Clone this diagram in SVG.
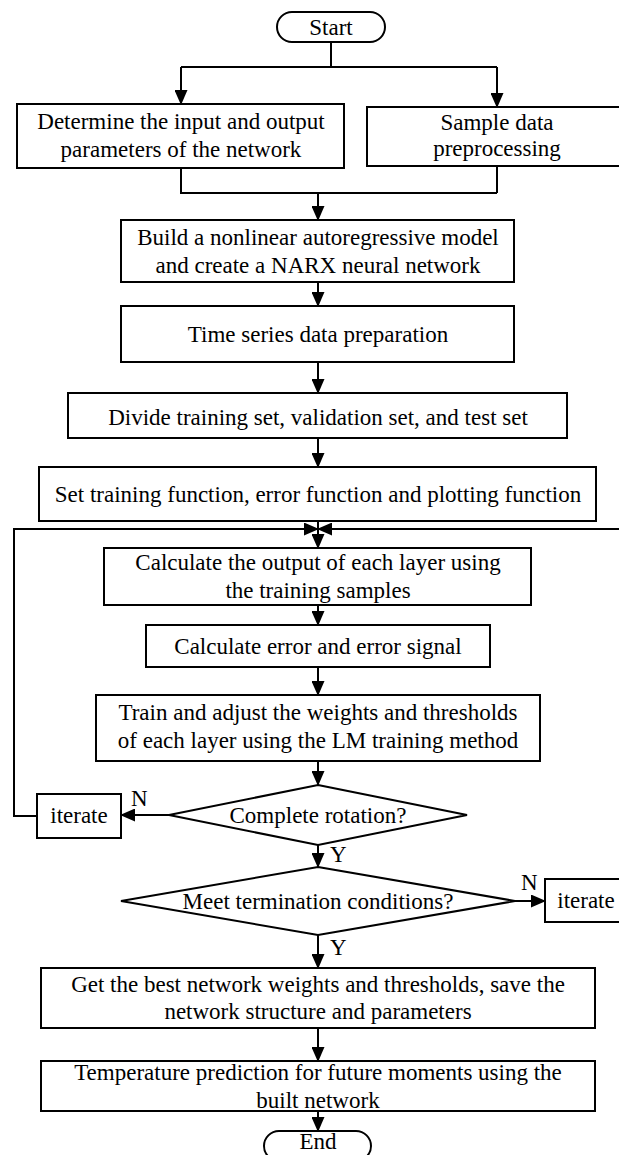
<svg xmlns="http://www.w3.org/2000/svg" width="619" height="1155" viewBox="0 0 619 1155">
  <style>
    .box { fill: #fff; stroke: #000; stroke-width: 2; }
    .lbl { font-family: "Liberation Serif", "Times New Roman", serif; font-size: 23px; fill: #000; text-anchor: middle; }
    .yn { font-family: "Liberation Serif", "Times New Roman", serif; font-size: 23px; fill: #000; }
    .wire { fill: none; stroke: #000; stroke-width: 2; }
  </style>
  <defs>
    <marker id="arrow" viewBox="0 0 15 13" markerUnits="userSpaceOnUse" markerWidth="15" markerHeight="13" refX="14" refY="6.5" orient="auto">
      <path d="M0,0 L15,6.5 L0,13 Z" fill="#000"/>
    </marker>
  </defs>
  <rect width="619" height="1155" fill="#fff"/>

  <!-- connectors -->
  <g id="connectors">
    <path class="wire" d="M331,42 V67 M181,67 H497"/>
    <path class="wire" d="M181,67 V104" marker-end="url(#arrow)"/>
    <path class="wire" d="M497,67 V107" marker-end="url(#arrow)"/>
    <path class="wire" d="M181,168 V193 H497 M497,166 V193"/>
    <path class="wire" d="M318,193 V220" marker-end="url(#arrow)"/>
    <path class="wire" d="M318,282 V306" marker-end="url(#arrow)"/>
    <path class="wire" d="M318,362 V393" marker-end="url(#arrow)"/>
    <path class="wire" d="M318,438 V467" marker-end="url(#arrow)"/>
    <path class="wire" d="M318,521 V548" marker-end="url(#arrow)"/>
    <path class="wire" d="M37,816 H14 V529 H318" marker-end="url(#arrow)"/>
    <path class="wire" d="M625,529 H318" marker-end="url(#arrow)"/>
    <path class="wire" d="M318,605 V625" marker-end="url(#arrow)"/>
    <path class="wire" d="M318,667 V695" marker-end="url(#arrow)"/>
    <path class="wire" d="M318,761 V785" marker-end="url(#arrow)"/>
    <path class="wire" d="M169,815 H121" marker-end="url(#arrow)"/>
    <path class="wire" d="M318,845 V867" marker-end="url(#arrow)"/>
    <path class="wire" d="M515,901 H545" marker-end="url(#arrow)"/>
    <path class="wire" d="M318,935 V968" marker-end="url(#arrow)"/>
    <path class="wire" d="M318,1028 V1061" marker-end="url(#arrow)"/>
    <path class="wire" d="M318,1111 V1131" marker-end="url(#arrow)"/>
    <text class="yn" x="131" y="806">N</text>
    <text class="yn" x="330" y="862">Y</text>
    <text class="yn" x="521" y="890">N</text>
    <text class="yn" x="330" y="955">Y</text>
  </g>

  <g id="start">
    <rect class="box" x="277" y="12" width="108" height="30" rx="15"/>
    <text class="lbl" x="331" y="35">Start</text>
  </g>

  <g id="io-params">
    <rect class="box" x="17" y="104" width="327" height="64"/>
    <text class="lbl" x="181" y="129">Determine the input and output</text>
    <text class="lbl" x="181" y="157">parameters of the network</text>
  </g>

  <g id="preprocess">
    <rect class="box" x="367" y="107" width="260" height="59"/>
    <text class="lbl" x="497" y="130">Sample data</text>
    <text class="lbl" x="497" y="156">preprocessing</text>
  </g>

  <g id="build-model">
    <rect class="box" x="121" y="220" width="393" height="62"/>
    <text class="lbl" x="318" y="245">Build a nonlinear autoregressive model</text>
    <text class="lbl" x="318" y="273">and create a NARX neural network</text>
  </g>

  <g id="series-prep">
    <rect class="box" x="121" y="306" width="393" height="56"/>
    <text class="lbl" x="318" y="342">Time series data preparation</text>
  </g>

  <g id="divide-sets">
    <rect class="box" x="68" y="393" width="499" height="45"/>
    <text class="lbl" x="318" y="425">Divide training set, validation set, and test set</text>
  </g>

  <g id="set-functions">
    <rect class="box" x="39" y="467" width="557" height="54"/>
    <text class="lbl" x="318" y="502">Set training function, error function and plotting function</text>
  </g>

  <g id="layer-output">
    <rect class="box" x="104" y="548" width="427" height="57"/>
    <text class="lbl" x="318" y="570">Calculate the output of each layer using</text>
    <text class="lbl" x="318" y="598">the training samples</text>
  </g>

  <g id="error-signal">
    <rect class="box" x="146" y="625" width="344" height="42"/>
    <text class="lbl" x="318" y="654">Calculate error and error signal</text>
  </g>

  <g id="lm-train">
    <rect class="box" x="96" y="695" width="444" height="66"/>
    <text class="lbl" x="318" y="720">Train and adjust the weights and thresholds</text>
    <text class="lbl" x="318" y="748">of each layer using the LM training method</text>
  </g>

  <g id="rotation-check">
    <polygon class="box" points="318,785 467,815 318,845 169,815"/>
    <text class="lbl" x="318" y="823">Complete rotation?</text>
  </g>

  <g id="iterate-left">
    <rect class="box" x="37" y="794" width="84" height="44"/>
    <text class="lbl" x="79" y="823">iterate</text>
  </g>

  <g id="termination-check">
    <polygon class="box" points="318,867 515,901 318,935 121,901"/>
    <text class="lbl" x="318" y="909">Meet termination conditions?</text>
  </g>

  <g id="iterate-right">
    <rect class="box" x="545" y="879" width="82" height="43"/>
    <text class="lbl" x="586" y="908">iterate</text>
  </g>

  <g id="save-network">
    <rect class="box" x="41" y="968" width="554" height="60"/>
    <text class="lbl" x="318" y="992">Get the best network weights and thresholds, save the</text>
    <text class="lbl" x="318" y="1019">network structure and parameters</text>
  </g>

  <g id="predict">
    <rect class="box" x="41" y="1061" width="554" height="50"/>
    <text class="lbl" x="318" y="1080">Temperature prediction for future moments using the</text>
    <text class="lbl" x="318" y="1108">built network</text>
  </g>

  <g id="end">
    <rect class="box" x="264" y="1131" width="107" height="30" rx="15"/>
    <text class="lbl" x="318" y="1149">End</text>
  </g>
</svg>
